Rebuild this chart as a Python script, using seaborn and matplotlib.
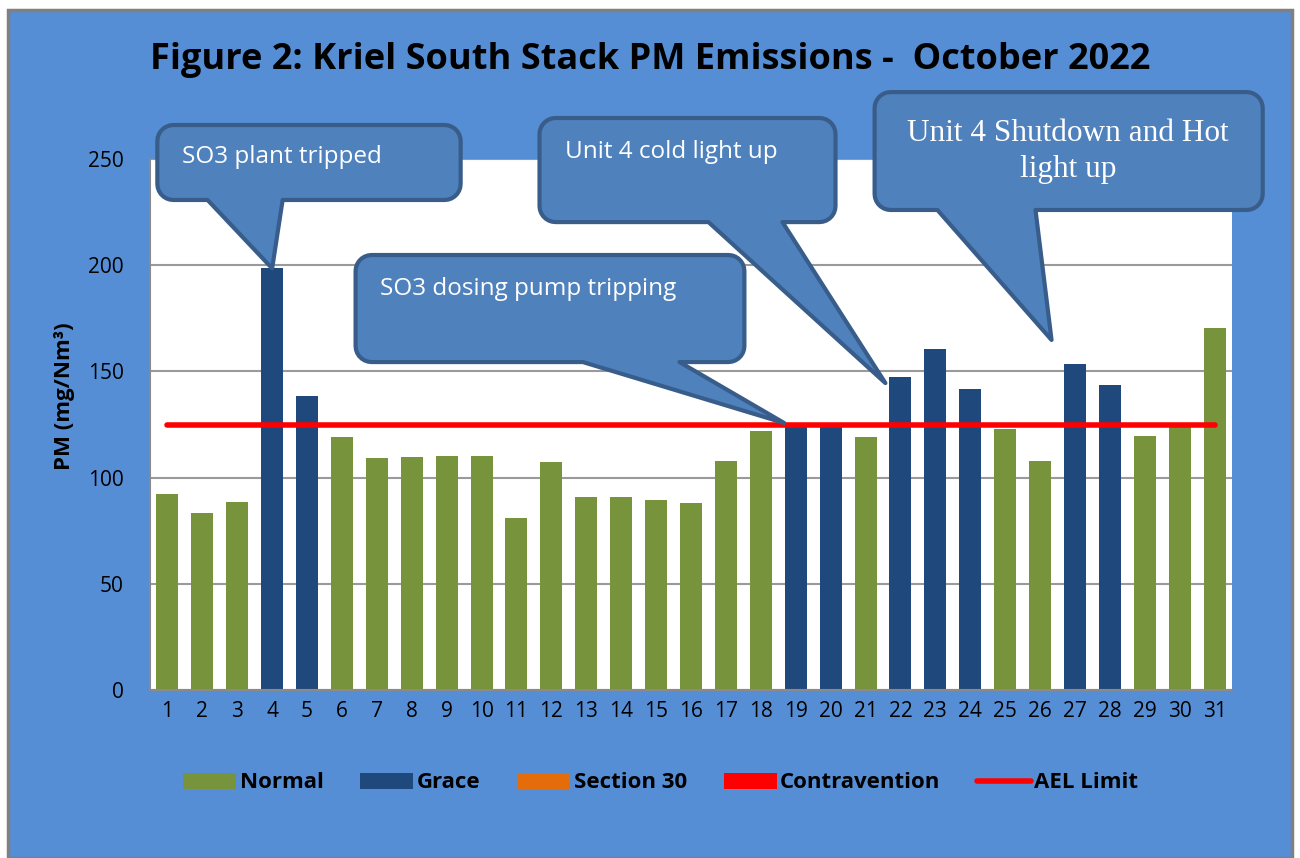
import numpy as np
import pandas as pd
import seaborn as sns
import matplotlib.pyplot as plt
from matplotlib.patches import Polygon, Rectangle, Patch
from matplotlib.lines import Line2D

# daily PM values (mg/Nm3)
days = [str(d) for d in range(1, 32)]
pm = [92.1, 83.2, 88.5, 198.5, 138.6, 119.3, 109.1, 109.7, 110.0, 110.3,
      81.0, 107.2, 91.0, 90.7, 89.6, 87.9, 107.8, 121.8, 125.0, 125.5,
      119.0, 147.5, 160.4, 141.6, 122.7, 108.0, 153.3, 143.4, 119.6, 124.5,
      170.4]
status = ["Normal", "Normal", "Normal", "Grace", "Grace", "Normal", "Normal",
          "Normal", "Normal", "Normal", "Normal", "Normal", "Normal", "Normal",
          "Normal", "Normal", "Normal", "Normal", "Grace", "Grace", "Normal",
          "Grace", "Grace", "Grace", "Normal", "Normal", "Grace", "Grace",
          "Normal", "Normal", "Normal"]
ael_limit = [125] * 31

legend_names = ["Normal", "Grace", "Section 30", "Contravention"]
legend_colors = ["#77933C", "#1F497D", "#E46C0A", "#FF0000"]

df = pd.DataFrame({"day": days, "pm": pm, "status": status, "ael": ael_limit})

W, H = 1300, 858
fig = plt.figure(figsize=(W / 100, H / 100), dpi=100)
fig.patch.set_facecolor("white")
fig.patches.append(Rectangle((8 / W, 0), 1284 / W, 848 / H, transform=fig.transFigure,
                             facecolor="#558ED5", edgecolor="#808080", linewidth=2.5, zorder=-10))

ax = fig.add_axes([150 / W, 1 - 690 / H, 1082 / W, 531 / H])
ax.set_facecolor("white")

pal = dict(zip(legend_names, legend_colors))
sns.barplot(data=df, x="day", y="pm", hue="status", palette=pal, dodge=False, saturation=1,
            width=0.63, linewidth=0, legend=False, ax=ax, zorder=2)
sns.lineplot(x=np.arange(len(days)), y=df["ael"], color="#FF0000", linewidth=4,
             solid_capstyle="round", ax=ax, zorder=3)

ax.set_xlim(-0.5, 30.5)
ax.set_ylim(0, 250)
ax.set_yticks(range(0, 251, 50))
ax.grid(axis="y", color="#9A9A9A", linewidth=1.5, zorder=0)
ax.set_axisbelow(True)
for s in ["top", "right"]:
    ax.spines[s].set_visible(False)
for s in ["left", "bottom"]:
    ax.spines[s].set_color("#8A8A8A")
    ax.spines[s].set_linewidth(1.5)
ax.tick_params(length=0, labelsize=15, colors="black", pad=8)
ax.tick_params(axis="y", pad=19)
for lab in ax.get_xticklabels() + ax.get_yticklabels():
    lab.set_family("Open Sans")
ax.set_xlabel("")
ax.set_ylabel("PM (mg/Nm³)", fontsize=16, fontweight="bold", family="Open Sans")
ax.yaxis.set_label_coords(-0.069, 0.554)

fig.text(0.5, 1 - 60 / H, "Figure 2: Kriel South Stack PM Emissions -  October 2022",
         ha="center", va="center", fontsize=26, fontweight="bold", family="Open Sans")


def rounded_callout(box, base, tip, r=16, n=8):
    # box (x0, x1, y0, y1), base (xa, xb) on bottom edge, tip (x, y); all in data coords
    to_px = ax.transData.transform
    (x0, y0), (x1, y1) = to_px([(box[0], box[2]), (box[1], box[3])])
    xa = to_px((base[0], box[2]))[0]
    xb = to_px((base[1], box[2]))[0]
    tx, ty = to_px(tip)
    pts = []

    def arc(cx, cy, a0, a1):
        for a in np.linspace(np.radians(a0), np.radians(a1), n):
            pts.append((cx + r * np.cos(a), cy + r * np.sin(a)))

    arc(x0 + r, y0 + r, 180, 270)
    pts += [(xa, y0), (tx, ty), (xb, y0)]
    arc(x1 - r, y0 + r, 270, 360)
    arc(x1 - r, y1 - r, 0, 90)
    arc(x0 + r, y1 - r, 90, 180)
    data_pts = ax.transData.inverted().transform(pts)
    ax.add_patch(Polygon(data_pts, closed=True, facecolor="#4F81BD", edgecolor="#385D8A",
                         linewidth=3, joinstyle="round", clip_on=False, zorder=5))


rounded_callout((-0.29, 8.4, 230.7, 266), (1.15, 3.3), (3, 198.5))
rounded_callout((5.39, 16.53, 154.4, 204.8), (11.9, 14.67), (17.67, 125.7))
rounded_callout((10.66, 19.14, 220.3, 269.3), (15.5, 17.62), (20.57, 144.5))
rounded_callout((20.26, 31.38, 226, 281.5), (22.06, 24.87), (25.33, 164.8))

ax.text(0.43, 251, "SO3 plant tripped", color="white", fontsize=17.5, family="Open Sans",
        va="center", ha="left", zorder=6, clip_on=False)
ax.text(6.1, 188.8, "SO3 dosing pump tripping", color="white", fontsize=17.5, family="Open Sans",
        va="center", ha="left", zorder=6)
ax.text(11.4, 253.3, "Unit 4 cold light up", color="white", fontsize=17.5, family="Open Sans",
        va="center", ha="left", zorder=6, clip_on=False)
ax.text(25.8, 253.5, "Unit 4 Shutdown and Hot\nlight up", color="white", fontsize=22.5,
        family="Liberation Serif", va="center", ha="center", linespacing=1.35,
        zorder=6, clip_on=False)

handles = [Patch(facecolor=c, edgecolor="none") for c in legend_colors]
handles.append(Line2D([0], [0], color="#FF0000", linewidth=4, solid_capstyle="round"))
fig.legend(handles, legend_names + ["AEL Limit"], loc="center", bbox_to_anchor=(0.508, 1 - 783 / H),
           ncol=5, frameon=False, handlelength=2.4, handleheight=0.7, columnspacing=1.65,
           handletextpad=0.15, prop={"family": "Open Sans", "weight": "bold", "size": 16})

fig.savefig("out.png", dpi=100)
